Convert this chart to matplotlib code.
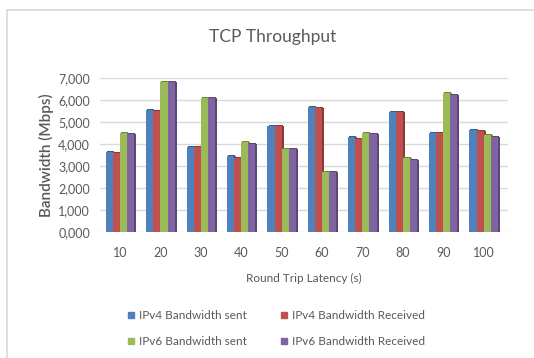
import matplotlib
matplotlib.use("Agg")
import matplotlib.pyplot as plt
import numpy as np
from matplotlib.lines import Line2D
from matplotlib.ticker import FuncFormatter

plt.rcParams['font.family'] = ['Lato', 'DejaVu Sans']

latency = ['10', '20', '30', '40', '50', '60', '70', '80', '90', '100']
ipv4_sent = [3650, 5550, 3870, 3450, 4820, 5680, 4300, 5470, 4500, 4620]
ipv4_recv = [3600, 5500, 3850, 3350, 4820, 5630, 4250, 5470, 4500, 4580]
ipv6_sent = [4500, 6800, 6080, 4080, 3770, 2730, 4500, 3350, 6300, 4400]
ipv6_recv = [4450, 6800, 6080, 4000, 3770, 2730, 4470, 3270, 6250, 4320]
series_names = ['IPv4 Bandwidth sent', 'IPv4 Bandwidth Received',
                'IPv6 Bandwidth sent', 'IPv6 Bandwidth Received']
yticks = [0, 1000, 2000, 3000, 4000, 5000, 6000, 7000]

colors = ['#4f81bd', '#c0504d', '#9bbb59', '#8064a2']
side_colors = ['#385d8a', '#8c3836', '#71893f', '#5c4776']
text_col = '#595959'

fig = plt.figure(figsize=(5.34, 3.58), dpi=100)
ax = fig.add_axes([0.187, 0.352, 0.764, 0.430])

series = [ipv4_sent, ipv4_recv, ipv6_sent, ipv6_recv]
x = np.arange(len(latency))
w = 0.175
depth_x = 0.05
depth_y = 90

for i, (vals, c, sc) in enumerate(zip(series, colors, side_colors)):
    pos = x + (i - 1.5) * w
    # depth face drawn behind the front face
    ax.bar(pos + depth_x, vals, width=w, bottom=0, color=sc, zorder=2 + i * 0.1,
           clip_on=False, linewidth=0)
    ax.bar(pos + depth_x * 0.5, vals, width=w, bottom=depth_y * 0.5, color=sc,
           zorder=2 + i * 0.1, clip_on=False, linewidth=0)
    ax.bar(pos, vals, width=w, color=c, zorder=2.05 + i * 0.1, clip_on=False,
           linewidth=0)

ax.set_xlim(-0.5, 9.6)
ax.set_ylim(0, 7000)
ax.set_yticks(yticks)
ax.yaxis.set_major_formatter(FuncFormatter(lambda v, p: f"{int(v)//1000},{int(v)%1000:03d}"))
ax.set_xticks(x)
ax.set_xticklabels(latency)
ax.grid(axis='y', color='#d9d9d9', linewidth=1.0, zorder=0)
for s in ax.spines.values():
    s.set_visible(False)
ax.tick_params(axis='both', length=0, labelsize=9, colors=text_col)
ax.tick_params(axis='x', pad=11)
ax.tick_params(axis='y', pad=7)

ax.set_ylabel('Bandwidth (Mbps)', fontsize=11, color=text_col, labelpad=3,
              fontweight='semibold')
ax.set_xlabel('Round Trip Latency (s)', fontsize=8.5, color=text_col, labelpad=10)
fig.text(0.51, 0.897, 'TCP Throughput', ha='center', va='center', fontsize=12.5,
         color=text_col)

# legend filled row by row
order = [0, 2, 1, 3]
handles = [Line2D([0], [0], marker='s', linestyle='none', markersize=5,
                  markerfacecolor=colors[k], markeredgecolor=colors[k]) for k in order]
fig.legend(handles, [series_names[k] for k in order], ncol=2, loc='center',
           bbox_to_anchor=(0.515, 0.083), frameon=False, fontsize=8.5,
           labelcolor=text_col, handletextpad=0.2, columnspacing=2.6,
           handlelength=1.0, labelspacing=1.25)

# chart frame edges
fig.add_artist(Line2D([7 / 534, 7 / 534], [0, 1 - 9.5 / 358], transform=fig.transFigure,
                      color='#d9d9d9', linewidth=1.2))
fig.add_artist(Line2D([7 / 534, 1], [1 - 9.5 / 358, 1 - 9.5 / 358], transform=fig.transFigure,
                      color='#d9d9d9', linewidth=1.2))

fig.savefig('out.png', dpi=100)
